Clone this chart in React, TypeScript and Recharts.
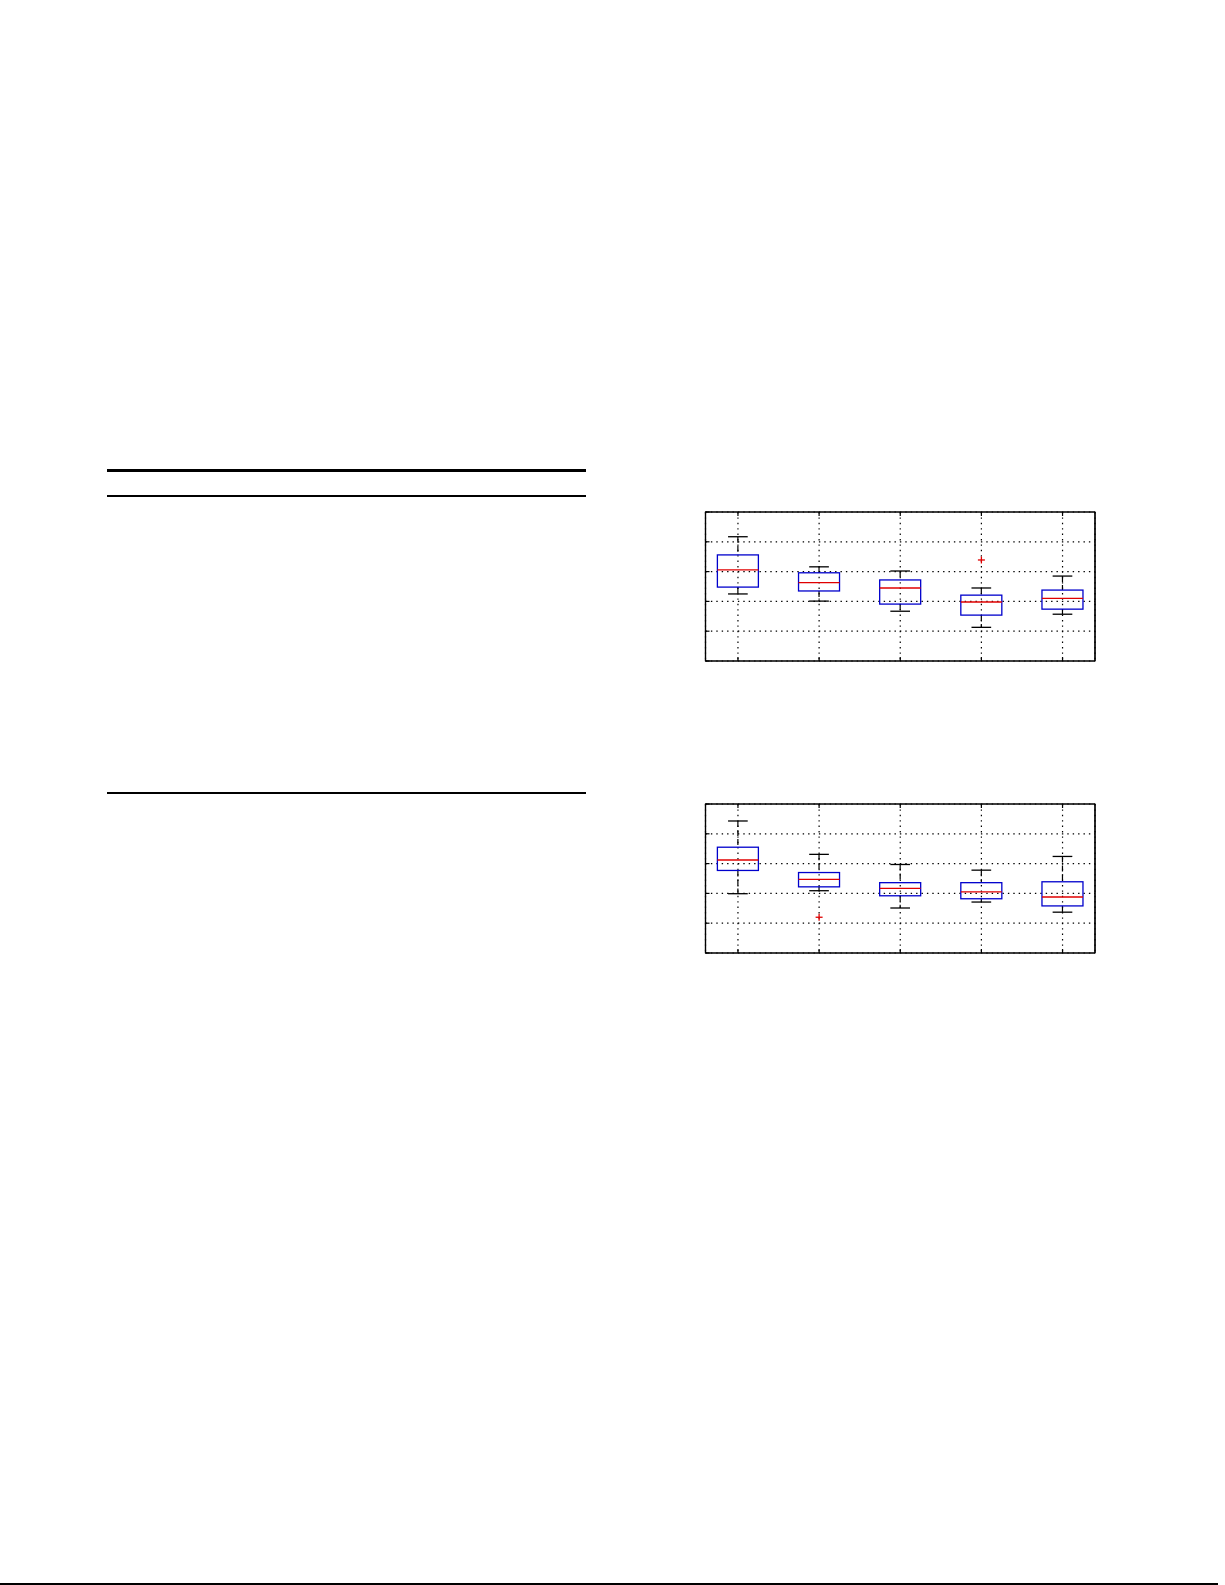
import React from 'react';
import { ComposedChart, Bar, Scatter, XAxis, YAxis, CartesianGrid, ReferenceArea } from 'recharts';

// ---- data ----
const categories = [1, 2, 3, 4, 5];
const yTicks = [0, 1, 2, 3, 4, 5];
const xDomain = [0.6, 5.4];
const yDomain = [0, 5];

const lowWhiskerA = [2.25, 2.01, 1.67, 1.13, 1.57];
const q1A = [2.48, 2.35, 1.91, 1.54, 1.74];
const medianA = [3.06, 2.63, 2.45, 1.98, 2.1];
const q3A = [3.56, 2.96, 2.72, 2.21, 2.38];
const highWhiskerA = [4.17, 3.16, 3.02, 2.45, 2.85];
const outliersA = [{ x: 4, y: 3.39 }];

const lowWhiskerB = [1.99, 2.09, 1.51, 1.71, 1.37];
const q1B = [2.77, 2.22, 1.92, 1.82, 1.58];
const medianB = [3.12, 2.47, 2.17, 2.05, 1.88];
const q3B = [3.55, 2.7, 2.36, 2.36, 2.39];
const highWhiskerB = [4.43, 3.31, 2.97, 2.78, 3.24];
const outliersB = [{ x: 2, y: 1.2 }];

const buildRows = (low: number[], q1: number[], med: number[], q3: number[], high: number[]) =>
  categories.map((c, i) => ({
    x: c,
    range: [low[i], high[i]],
    low: low[i],
    q1: q1[i],
    med: med[i],
    q3: q3[i],
    high: high[i],
  }));

const BOX_BLUE = '#0000cc';
const MED_RED = '#e00000';

const BoxShape = (props: any) => {
  const { x, y, width, height, payload } = props;
  if (payload == null || x == null || y == null) return <g />;
  const top = Math.min(y, y + height);
  const bot = Math.max(y, y + height);
  const span = payload.high - payload.low;
  const py = (v: number) => top + ((bot - top) * (payload.high - v)) / span;
  const cx = x + width / 2;
  const capHalf = width * 0.24;
  const yHigh = py(payload.high);
  const yLow = py(payload.low);
  const yQ3 = py(payload.q3);
  const yQ1 = py(payload.q1);
  const yMed = py(payload.med);
  return (
    <g>
      <line x1={cx} x2={cx} y1={yHigh} y2={yQ3} stroke="#000" strokeWidth={1.2} strokeDasharray="6 3" />
      <line x1={cx} x2={cx} y1={yQ1} y2={yLow} stroke="#000" strokeWidth={1.2} strokeDasharray="6 3" />
      <line x1={cx - capHalf} x2={cx + capHalf} y1={yHigh} y2={yHigh} stroke="#000" strokeWidth={1.3} />
      <line x1={cx - capHalf} x2={cx + capHalf} y1={yLow} y2={yLow} stroke="#000" strokeWidth={1.3} />
      <rect x={x} y={yQ3} width={width} height={yQ1 - yQ3} fill="none" stroke={BOX_BLUE} strokeWidth={1.3} />
      <line x1={x} x2={x + width} y1={yMed} y2={yMed} stroke={MED_RED} strokeWidth={1.3} />
    </g>
  );
};

const PlusShape = (props: any) => {
  const { cx, cy } = props;
  if (cx == null || cy == null) return <g />;
  const r = 3.5;
  return (
    <g>
      <line x1={cx - r} x2={cx + r} y1={cy} y2={cy} stroke={MED_RED} strokeWidth={1.3} />
      <line x1={cx} x2={cx} y1={cy - r} y2={cy + r} stroke={MED_RED} strokeWidth={1.3} />
    </g>
  );
};

const emptyLabel = () => '';

const BoxPlot = ({ rows, outliers, left, top }: any) => (
  <div style={{ position: 'absolute', left, top, width: 400, height: 160 }}>
    <ComposedChart
      width={400}
      height={160}
      data={rows}
      margin={{ top: 5, right: 5, bottom: 6, left: 5.5 }}
    >
      <CartesianGrid stroke="#000" strokeDasharray="1.4 4" strokeWidth={1.2} />
      <XAxis
        xAxisId={0}
        dataKey="x"
        type="number"
        domain={xDomain}
        ticks={categories}
        orientation="bottom"
        mirror
        tickSize={4}
        tickFormatter={emptyLabel}
        axisLine={{ stroke: '#000', strokeWidth: 1.2 }}
        tickLine={{ stroke: '#000', strokeWidth: 1.2 }}
      />
      <XAxis
        xAxisId="top"
        dataKey="x"
        type="number"
        domain={xDomain}
        ticks={categories}
        orientation="top"
        mirror
        tickSize={4}
        tickFormatter={emptyLabel}
        axisLine={{ stroke: '#000', strokeWidth: 1.2 }}
        tickLine={{ stroke: '#000', strokeWidth: 1.2 }}
      />
      <YAxis
        yAxisId={0}
        type="number"
        domain={yDomain}
        ticks={yTicks}
        orientation="left"
        mirror
        tickSize={4}
        tickFormatter={emptyLabel}
        axisLine={{ stroke: '#000', strokeWidth: 1.2 }}
        tickLine={{ stroke: '#000', strokeWidth: 1.2 }}
      />
      <YAxis
        yAxisId="right"
        type="number"
        domain={yDomain}
        ticks={yTicks}
        orientation="right"
        mirror
        tickSize={4}
        tickFormatter={emptyLabel}
        axisLine={{ stroke: '#000', strokeWidth: 1.2 }}
        tickLine={{ stroke: '#000', strokeWidth: 1.2 }}
      />
      <ReferenceArea
        xAxisId={0}
        yAxisId={0}
        x1={xDomain[0]}
        x2={xDomain[1]}
        y1={yDomain[0]}
        y2={yDomain[1]}
        fill="none"
        fillOpacity={0}
        stroke="#000"
        strokeWidth={1.2}
        strokeOpacity={1}
      />
      <Bar
        xAxisId={0}
        yAxisId={0}
        dataKey="range"
        barSize={41}
        shape={<BoxShape />}
        isAnimationActive={false}
      />
      <Scatter
        xAxisId={0}
        yAxisId={0}
        data={outliers}
        dataKey="y"
        shape={<PlusShape />}
        isAnimationActive={false}
      />
    </ComposedChart>
  </div>
);

const rowsA = buildRows(lowWhiskerA, q1A, medianA, q3A, highWhiskerA);
const rowsB = buildRows(lowWhiskerB, q1B, medianB, q3B, highWhiskerB);

const rule = (left: number, top: number, width: number, height: number) => (
  <div style={{ position: 'absolute', left, top, width, height, background: '#000' }} />
);

export default function App() {
  return (
    <div style={{ position: 'absolute', left: 0, top: 0, width: 1225, height: 1585, background: '#fff', overflow: 'hidden' }}>
      {rule(107, 469.3, 479, 2.5)}
      {rule(107, 494.8, 479, 1.9)}
      {rule(107, 791.8, 479, 1.9)}
      {rule(0, 1582.5, 1218, 2)}
      <BoxPlot rows={rowsA} outliers={outliersA} left={700} top={507} />
      <BoxPlot rows={rowsB} outliers={outliersB} left={700} top={799} />
    </div>
  );
}
